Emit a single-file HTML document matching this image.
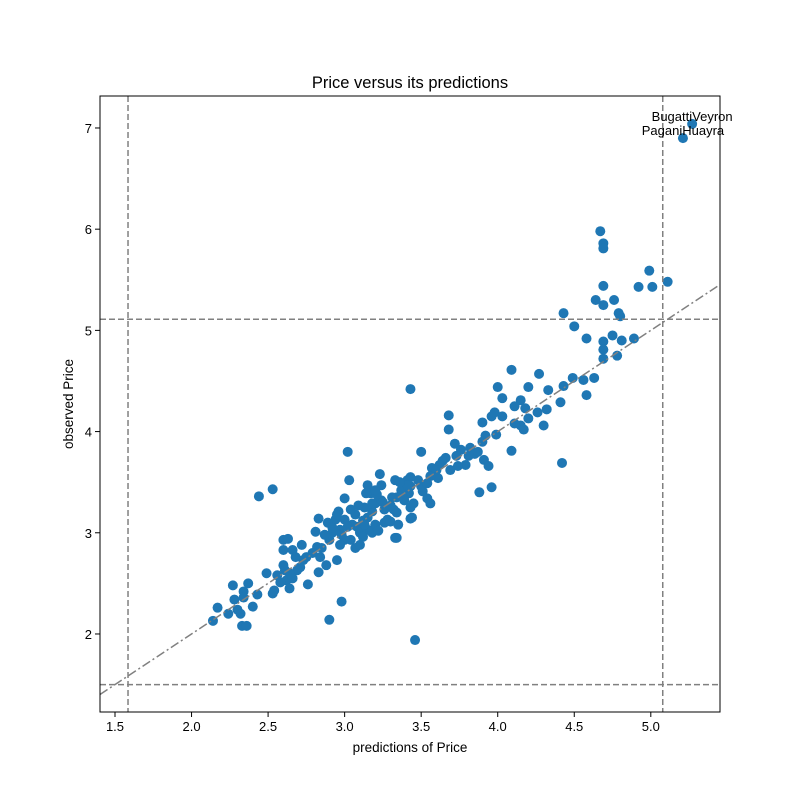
<!DOCTYPE html>
<html><head><meta charset="utf-8"><style>
body{margin:0;background:#fff}
svg{display:block;font-family:"Liberation Sans","DejaVu Sans",sans-serif}
</style></head><body>
<svg id="chart" width="800" height="800" viewBox="0 0 800 800">
<rect width="800" height="800" fill="#fff"/>
<text x="410" y="88" font-size="16.5" text-anchor="middle">Price versus its predictions</text>
<text x="410" y="752" font-size="13.5" text-anchor="middle">predictions of Price</text>
<text x="0" y="0" font-size="13.5" text-anchor="middle" transform="translate(73,404) rotate(-90)">observed Price</text>
<g id="plot"></g>
</svg>
<script>
const xTicks=[1.5,2.0,2.5,3.0,3.5,4.0,4.5,5.0];
const xTickLabels=["1.5","2.0","2.5","3.0","3.5","4.0","4.5","5.0"];
const yTicks=[2,3,4,5,6,7];
const yTickLabels=["2","3","4","5","6","7"];
const vLines=[1.585,5.078];
const hLines=[1.50,5.11];
const predX=[5.27,5.21,4.67,4.69,4.69,4.69,4.99,5.11,4.92,5.01,4.43,4.50,4.64,4.69,4.76,4.79,4.80,4.58,4.75,4.69,4.81,4.89,4.69,4.78,4.69,4.49,4.63,4.56,4.58,4.43,4.41,4.09,4.27,4.00,4.03,4.20,4.33,4.11,4.15,4.18,4.26,4.32,4.20,4.30,4.15,4.17,4.11,4.42,4.09,3.96,4.03,3.99,3.90,3.92,3.90,3.88,3.96,3.68,3.68,3.43,3.72,3.76,3.81,3.82,3.85,3.91,3.94,3.79,3.74,3.66,3.64,3.57,3.61,3.56,3.51,3.50,3.54,3.56,3.50,3.46,3.87,3.73,3.98,3.69,
3.43,3.42,3.37,3.34,3.43,3.43,3.39,3.15,3.23,3.33,3.34,3.33,3.24,3.20,3.18,3.15,3.12,3.08,3.20,3.26,3.10,3.13,3.14,3.17,3.21,3.18,3.22,3.28,3.02,3.03,3.00,2.98,2.90,3.48,3.43,3.41,3.41,3.36,3.31,3.38,3.45,3.44,3.24,3.20,3.18,3.25,3.32,3.30,3.34,3.15,3.12,3.07,3.04,3.09,3.05,3.00,2.97,3.00,2.97,3.04,3.07,2.94,2.96,2.98,2.90,2.89,2.95,2.92,2.83,2.81,2.82,2.84,2.88,2.95,2.83,2.75,2.72,2.73,2.71,2.76,2.69,2.64,2.62,2.64,2.58,2.60,2.60,2.60,2.63,2.66,2.68,2.53,2.44,2.49,2.53,2.54,2.43,2.37,2.27,2.34,2.34,2.28,2.40,2.32,2.24,2.30,2.33,2.36,2.17,2.14,2.56,2.61,2.66,2.79,2.85,3.10,3.13,3.02,2.92,2.87,3.26,3.30,3.35,3.62,3.60,3.54];
const obsY=[7.04,6.90,5.98,5.86,5.81,5.44,5.59,5.48,5.43,5.43,5.17,5.04,5.30,5.25,5.30,5.17,5.14,4.92,4.95,4.89,4.90,4.92,4.81,4.75,4.72,4.53,4.53,4.51,4.36,4.45,4.29,4.61,4.57,4.44,4.33,4.44,4.41,4.25,4.31,4.23,4.19,4.22,4.13,4.06,4.06,4.02,4.08,3.69,3.81,4.15,4.15,3.97,4.09,3.96,3.90,3.40,3.45,4.16,4.02,4.42,3.88,3.82,3.76,3.84,3.78,3.72,3.66,3.67,3.66,3.74,3.71,3.64,3.54,3.56,3.41,3.46,3.34,3.29,3.80,1.94,3.80,3.76,4.19,3.62,
3.46,3.39,3.42,3.35,3.14,3.25,3.32,3.47,3.58,3.52,3.20,2.95,3.32,3.29,3.21,3.15,3.12,3.06,3.08,3.10,3.00,3.25,3.39,3.39,3.38,3.00,3.02,3.13,3.80,3.52,3.34,2.32,2.14,3.52,3.55,3.52,3.47,3.50,3.35,3.35,3.29,3.15,3.47,3.42,3.29,3.30,3.23,3.11,2.95,3.03,2.96,3.18,3.23,3.27,3.08,3.13,3.03,2.93,2.88,2.93,2.85,3.13,3.21,2.98,2.93,3.10,3.18,3.00,3.14,3.01,2.86,2.76,2.68,2.73,2.61,2.76,2.88,2.73,2.66,2.49,2.63,2.60,2.53,2.45,2.51,2.68,2.83,2.93,2.94,2.83,2.76,3.43,3.36,2.60,2.40,2.43,2.39,2.50,2.48,2.42,2.36,2.34,2.27,2.20,2.20,2.24,2.08,2.08,2.26,2.13,2.58,2.63,2.55,2.80,2.85,2.88,3.08,3.06,3.05,2.98,3.23,3.27,3.08,3.67,3.62,3.49];
const labelNames=["BugattiVeyron","PaganiHuayra"];
const labelIdx=[0,1];

const L=100,R=720,T=96,B=712;
const xMin=1.402,xMax=5.452,yMin=1.229,yMax=7.316;
const sx=v=>L+(v-xMin)/(xMax-xMin)*(R-L);
const sy=v=>B-(v-yMin)/(yMax-yMin)*(B-T);
const NS="http://www.w3.org/2000/svg";
const g=document.getElementById('plot');
function mk(tag,attrs,parent){const e=document.createElementNS(NS,tag);for(const k in attrs)e.setAttribute(k,attrs[k]);(parent||g).appendChild(e);return e;}

const pts=mk('g',{});


for(let i=0;i<predX.length;i++){
  const c=mk('circle',{cx:sx(predX[i]),cy:sy(obsY[i]),r:5,fill:'#1f77b4'},pts);
  
  
}
const diag=mk('line',{x1:sx(xMin),y1:sy(xMin),x2:sx(xMax),y2:sy(xMax),stroke:'#808080','stroke-width':1.5,'stroke-dasharray':'9,3,2,3'});


vLines.forEach(v=>{
  const l=mk('line',{x1:sx(v),y1:T,x2:sx(v),y2:B,stroke:'#808080','stroke-width':1.5,'stroke-dasharray':'6,3'});
  
  
});
hLines.forEach(v=>{
  const l=mk('line',{x1:L,y1:sy(v),x2:R,y2:sy(v),stroke:'#808080','stroke-width':1.5,'stroke-dasharray':'6,3'});
  
  
});
labelIdx.forEach((idx,j)=>{
  const t=mk('text',{x:sx(predX[idx]),y:sy(obsY[idx])-3,'font-size':13,'text-anchor':'middle'});
  t.textContent=labelNames[j];
  
  
});
const frame=mk('rect',{x:L,y:T,width:R-L,height:B-T,fill:'none',stroke:'#000','stroke-width':1});


xTicks.forEach((v,i)=>{
  const x=sx(v);
  const tk=mk('line',{x1:x,y1:B,x2:x,y2:B+5,stroke:'#000'});
  
  
  const t=mk('text',{x:x,y:B+19,'font-size':13,'text-anchor':'middle'});
  t.textContent=xTickLabels[i];
  
  
});
yTicks.forEach((v,i)=>{
  const y=sy(v);
  const tk=mk('line',{x1:L-5,y1:y,x2:L,y2:y,stroke:'#000'});
  
  
  const t=mk('text',{x:L-8,y:y+5,'font-size':13,'text-anchor':'end'});
  t.textContent=yTickLabels[i];
  
  
});
</script>
</body></html>
